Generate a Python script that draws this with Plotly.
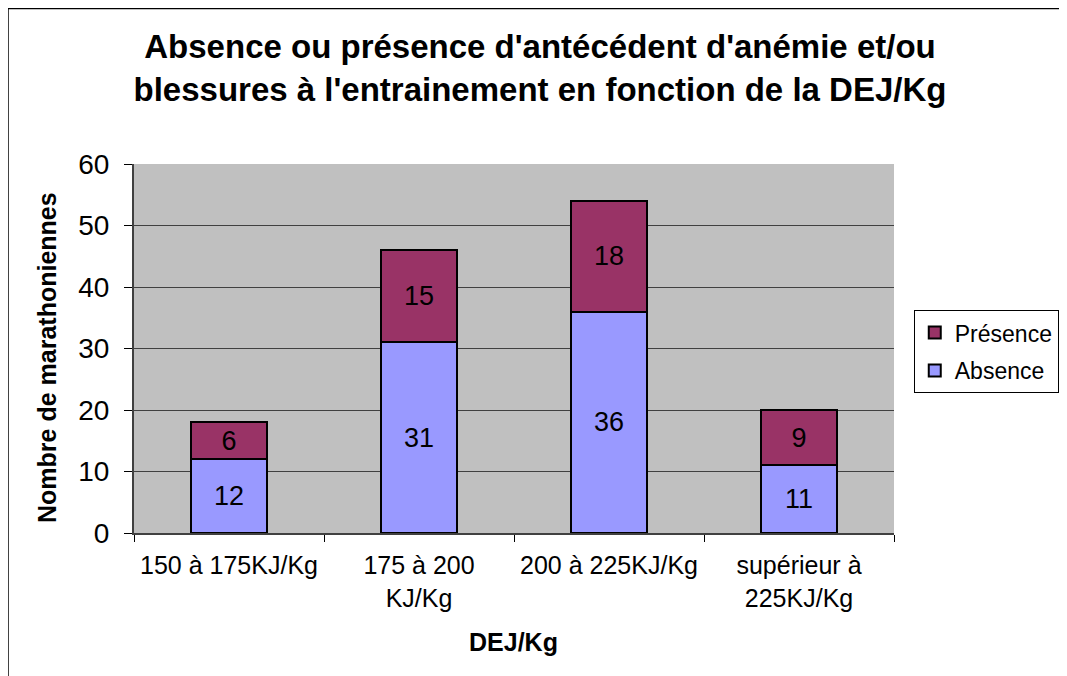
import plotly.graph_objects as go

categories = ["150 à 175KJ/Kg", "175 à 200<br>KJ/Kg", "200 à 225KJ/Kg", "supérieur à<br>225KJ/Kg"]
absence = [12, 31, 36, 11]
presence = [6, 15, 18, 9]
yticks = [0, 10, 20, 30, 40, 50, 60]

FONT = "Liberation Sans, Arial, sans-serif"

fig = go.Figure()
fig.add_trace(go.Bar(
    x=categories, y=absence, name="Absence", legendgroup="a", legendrank=2,
    marker=dict(color="#9999FF", line=dict(color="black", width=2)),
    text=absence, textposition="inside", insidetextanchor="middle",
    textfont=dict(size=27, color="black", family=FONT),
))
fig.add_trace(go.Bar(
    x=categories, y=presence, name="Présence", legendgroup="p", legendrank=1,
    marker=dict(color="#993366", line=dict(color="black", width=2)),
    text=presence, textposition="inside", insidetextanchor="middle",
    textfont=dict(size=27, color="black", family=FONT),
))

# the page body adds an 8px offset, so margins are shifted accordingly
fig.update_layout(
    width=1067, height=676,
    barmode="stack", bargap=0.6,
    plot_bgcolor="#C0C0C0", paper_bgcolor="white",
    font=dict(family=FONT, color="black"),
    margin=dict(l=126, r=181, t=156, b=151),
    title=dict(
        text="<b>Absence ou présence d'antécédent d'anémie et/ou<br>blessures à l'entrainement en fonction de la DEJ/Kg</b>",
        x=0.4986, xanchor="center", y=0.926, yanchor="top",
        font=dict(size=33, family=FONT),
    ),
    legend=dict(
        x=1.026, y=0.604, xanchor="left", yanchor="top",
        traceorder="grouped", tracegroupgap=5, bordercolor="black", borderwidth=1,
        bgcolor="white", font=dict(size=23, family=FONT),
    ),
    uniformtext=dict(mode="show", minsize=10),
)
fig.update_xaxes(
    showline=True, linecolor="#404040", linewidth=2,
    ticks="outside", tickson="boundaries", ticklen=7, tickcolor="black",
    tickfont=dict(size=25), tickangle=0, ticklabelstandoff=9, showgrid=False,
)
fig.update_yaxes(
    range=[0, 60], tickvals=yticks, showline=True, linecolor="#404040", linewidth=2,
    ticks="outside", ticklen=8, tickcolor="black", tickfont=dict(size=28),
    ticklabelstandoff=9, showgrid=True, gridcolor="#404040", gridwidth=1, zeroline=False,
)

fig.add_annotation(text="<b>Nombre de marathoniennes</b>", textangle=-90,
                   xref="paper", yref="paper", x=-0.1145, y=0.477,
                   xanchor="center", yanchor="middle",
                   showarrow=False, font=dict(size=25))
fig.add_annotation(text="<b>DEJ/Kg</b>", xref="paper", yref="paper",
                   x=0.4987, y=-0.2954, xanchor="center", yanchor="middle",
                   showarrow=False, font=dict(size=25))

fig.add_shape(type="rect", xref="paper", yref="paper",
              x0=-0.1658, x1=1.3, y0=-1, y1=1.4214,
              line=dict(color="black", width=1.5), layer="below")

fig.write_html("out.html")
